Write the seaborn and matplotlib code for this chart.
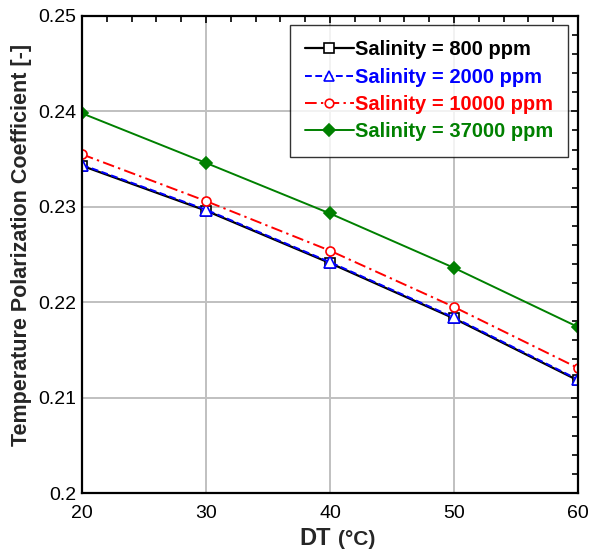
import matplotlib
matplotlib.use("Agg")
import matplotlib.pyplot as plt
from matplotlib.ticker import MultipleLocator
import seaborn as sns
import pandas as pd

dt = [20, 30, 40, 50, 60]
s800 = [0.2343, 0.2296, 0.2241, 0.2183, 0.2118]
s2000 = [0.2344, 0.2297, 0.2242, 0.2184, 0.2119]
s10000 = [0.2355, 0.2306, 0.2254, 0.2195, 0.2131]
s37000 = [0.2398, 0.2346, 0.2293, 0.2236, 0.2174]
labels = ["Salinity = 800 ppm", "Salinity = 2000 ppm",
          "Salinity = 10000 ppm", "Salinity = 37000 ppm"]
yticks = [0.2, 0.21, 0.22, 0.23, 0.24, 0.25]
ytick_labels = ["0.2", "0.21", "0.22", "0.23", "0.24", "0.25"]

sns.set_theme(style="white")
plt.rcParams['font.family'] = ['Liberation Sans', 'DejaVu Sans']

rows = []
for lab, vals in zip(labels, [s800, s2000, s10000, s37000]):
    for x, y in zip(dt, vals):
        rows.append({"DT": x, "TPC": y, "series": lab})
df = pd.DataFrame(rows)

styles = {
    labels[0]: dict(color="black", marker="s", mfc="white", mec="black", dashes=None, lw=1.6, ms=7.5),
    labels[1]: dict(color="blue", marker="^", mfc="white", mec="blue", dashes=(3.5, 1.8), lw=1.4, ms=8),
    labels[2]: dict(color="red", marker="o", mfc="white", mec="red", dashes=(6, 2.2, 1.2, 2.2), lw=1.4, ms=6.5),
    labels[3]: dict(color="green", marker="D", mfc="green", mec="green", dashes=None, lw=1.4, ms=6.5),
}

fig = plt.figure(figsize=(5.94, 5.53), dpi=100)
L, R, T, B = 82, 578, 16, 493
ax = fig.add_axes([L/594, 1-B/553, (R-L)/594, (B-T)/553])

for lab in labels:
    st = styles[lab]
    sub = df[df["series"] == lab]
    sns.lineplot(data=sub, x="DT", y="TPC", ax=ax, color=st["color"], marker=st["marker"],
                 markerfacecolor=st["mfc"], markeredgecolor=st["mec"], markersize=st["ms"],
                 markeredgewidth=1.2, linewidth=st["lw"], label=lab, estimator=None)
    line = ax.get_lines()[-1]
    if st["dashes"] is not None:
        line.set_dashes(st["dashes"])

ax.xaxis.set_major_locator(MultipleLocator(10))
ax.xaxis.set_minor_locator(MultipleLocator(2))
ax.set_yticks(yticks)
ax.set_yticklabels(ytick_labels)
ax.yaxis.set_minor_locator(MultipleLocator(0.002))
ax.set_xlim(20, 60)
ax.set_ylim(0.2, 0.25)
ax.grid(True, which="major", color="#c0c0c0", linewidth=1.4)
ax.set_axisbelow(True)
ax.tick_params(which="both", direction="in", top=True, right=True, labelsize=14, colors="black")
ax.tick_params(which="major", length=5, width=1.2)
ax.tick_params(which="minor", length=4, width=1.2)
ax.tick_params(axis="x", pad=9)
ax.tick_params(axis="y", pad=4)
for sp in ax.spines.values():
    sp.set_color("black")
    sp.set_linewidth(1.6)

ax.set_xlabel("")
fig.text(299/594, 1-545/553, "DT", fontsize=17, fontweight="bold", ha="left", va="baseline")
fig.text(338/594, 1-545/553, "(°C)", fontsize=15, fontweight="bold", ha="left", va="baseline")
ax.set_ylabel("Temperature Polarization Coefficient [-]", fontsize=15.5, fontweight="bold")
ax.yaxis.set_label_coords(-0.10, 0.52)

leg = ax.legend(loc="upper right", bbox_to_anchor=((568-L)/(R-L), (B-25)/(B-T)), frameon=True, fancybox=False,
                edgecolor="black", prop={"weight": "bold", "size": 14.5}, handlelength=2.4,
                handletextpad=0.05, borderpad=0.75, labelspacing=0.42, borderaxespad=0, markerscale=0.95)
leg.get_frame().set_linewidth(1.0)
for txt, lab in zip(leg.get_texts(), labels):
    txt.set_color(styles[lab]["color"])

fig.savefig("out.png", dpi=100)
